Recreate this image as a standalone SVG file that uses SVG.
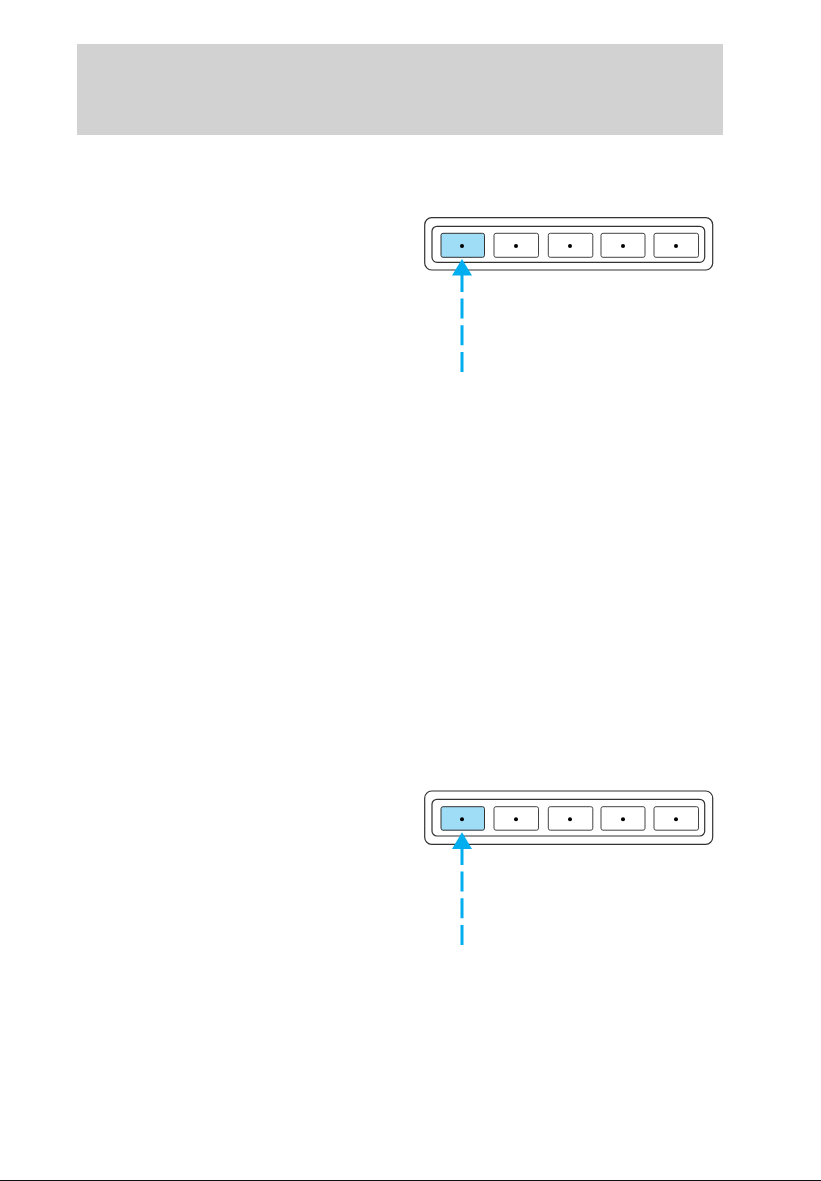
<svg xmlns="http://www.w3.org/2000/svg" width="821" height="1181" viewBox="0 0 821 1181">
<style>
.outer{fill:#fff;stroke:#333;stroke-width:1.2}
.inner{fill:#fff;stroke:#333;stroke-width:1.2}
.btn{fill:#fff;stroke:#444;stroke-width:1}
.sel{fill:#9fdcf5;stroke:#333;stroke-width:1}
.dot{fill:#000}
.dash{fill:none;stroke:#00aeef;stroke-width:3;stroke-dasharray:20 6.7}
.head{fill:#00aeef}
</style>
<rect width="821" height="1181" fill="#fff"/>
<g id="header"><rect x="77" y="44" width="646" height="91" fill="#d2d2d2"/></g>
<g id="panel-top">
<rect class="outer" x="424.7" y="217.7" width="288" height="52.3" rx="7"/>
<rect class="inner" x="432" y="226.3" width="272.7" height="36" rx="5"/>
<rect class="sel" x="441" y="233.3" width="43.5" height="24" rx="2"/>
<rect class="btn" x="494" y="233.3" width="44.5" height="24" rx="2"/>
<rect class="btn" x="548.3" y="233.3" width="44.5" height="24" rx="2"/>
<rect class="btn" x="601" y="233.3" width="44" height="24" rx="2"/>
<rect class="btn" x="654" y="233.3" width="44.5" height="24" rx="2"/>
<circle class="dot" cx="462" cy="246" r="2"/>
<circle class="dot" cx="516" cy="246" r="2"/>
<circle class="dot" cx="570" cy="246" r="2"/>
<circle class="dot" cx="623" cy="246" r="2"/>
<circle class="dot" cx="676" cy="246" r="2"/>
</g>
<g id="panel-bottom">
<rect class="outer" x="424.7" y="791" width="288" height="53.3" rx="7"/>
<rect class="inner" x="432" y="799.3" width="272.7" height="36.7" rx="5"/>
<rect class="sel" x="441" y="806.7" width="43.5" height="23.5" rx="2"/>
<rect class="btn" x="494" y="806.7" width="44.5" height="23.5" rx="2"/>
<rect class="btn" x="548.3" y="806.7" width="44.5" height="23.5" rx="2"/>
<rect class="btn" x="601" y="806.7" width="44" height="23.5" rx="2"/>
<rect class="btn" x="654" y="806.7" width="44.5" height="23.5" rx="2"/>
<circle class="dot" cx="462" cy="819.3" r="2"/>
<circle class="dot" cx="516" cy="819.3" r="2"/>
<circle class="dot" cx="570" cy="819.3" r="2"/>
<circle class="dot" cx="623" cy="819.3" r="2"/>
<circle class="dot" cx="676" cy="819.3" r="2"/>
</g>
<g id="connectors">
<path class="dash" d="M462 372 L462 268"/>
<polygon class="head" points="462,259 472,275.5 452,275.5"/>
<path class="dash" d="M462 945 L462 841"/>
<polygon class="head" points="462,832.3 472,849 452,849"/>
</g>
<line x1="0" y1="1180.5" x2="821" y2="1180.5" stroke="#111" stroke-width="1"/>
</svg>
